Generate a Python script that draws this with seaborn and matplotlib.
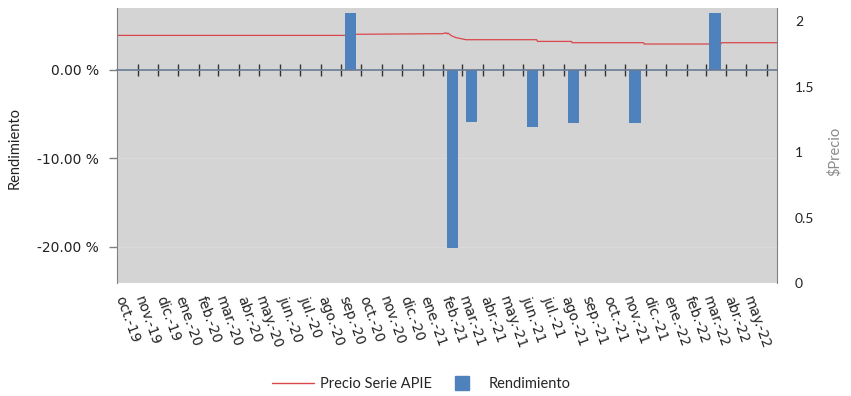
import pandas as pd
import numpy as np
import matplotlib
matplotlib.use('Agg')
import matplotlib.pyplot as plt
import matplotlib.dates as mdates
from matplotlib.lines import Line2D
import seaborn as sns

# Datos
meses = ['oct.-19', 'nov.-19', 'dic.-19', 'ene.-20', 'feb.-20', 'mar.-20', 'abr.-20',
         'may.-20', 'jun.-20', 'jul.-20', 'ago.-20', 'sep.-20', 'oct.-20', 'nov.-20',
         'dic.-20', 'ene.-21', 'feb.-21', 'mar.-21', 'abr.-21', 'may.-21', 'jun.-21',
         'jul.-21', 'ago.-21', 'sep.-21', 'oct.-21', 'nov.-21', 'dic.-21', 'ene.-22',
         'feb.-22', 'mar.-22', 'abr.-22', 'may.-22']

precio_fechas = ['2019-10-01', '2020-09-08', '2020-09-09', '2021-01-31', '2021-02-05',
                 '2021-02-07', '2021-02-08', '2021-02-14', '2021-02-20', '2021-03-07',
                 '2021-06-21', '2021-06-22', '2021-08-12', '2021-08-13', '2021-11-28',
                 '2021-11-29', '2022-03-24', '2022-03-25', '2022-06-16']
precio_valores = [1.893, 1.893, 1.901, 1.906, 1.913, 1.905, 1.910, 1.888, 1.876, 1.860,
                  1.860, 1.847, 1.847, 1.837, 1.837, 1.827, 1.827, 1.837, 1.837]

rend_fechas = ['2020-09-15', '2021-02-15', '2021-03-15', '2021-06-15', '2021-08-15',
               '2021-11-15', '2022-03-15']
rend_valores = [6.41, -20.1, -5.88, -6.44, -5.99, -5.99, 6.41]

df_precio = pd.DataFrame({'fecha': pd.to_datetime(precio_fechas), 'precio': precio_valores})
df_rend = pd.DataFrame({'fecha': pd.to_datetime(rend_fechas), 'rend': rend_valores})

sns.set_style('white')
plt.rcParams['font.family'] = ['DejaVu Sans']

fondo = '#d4d4d4'
rojo = '#d9474a'
azul = '#4f81bd'

fig = plt.figure(figsize=(8.51, 3.96), dpi=100)
ax = fig.add_axes([0.1375, 0.2854, 0.7755, 0.6936])
ax2 = ax.twinx()

# eje de precio debajo, rendimiento encima
ax2.set_zorder(1)
ax.set_zorder(2)
ax.patch.set_visible(False)
ax2.patch.set_visible(True)
ax2.set_facecolor(fondo)

sns.lineplot(data=df_precio, x='fecha', y='precio', ax=ax2, color=rojo, lw=0.9)

x_rend = mdates.date2num(df_rend['fecha'])
ax.bar(x_rend, df_rend['rend'], width=17, color=azul, edgecolor='none', linewidth=0,
       zorder=2)

inicio = mdates.date2num(pd.Timestamp('2019-10-01'))
fin = mdates.date2num(pd.Timestamp('2022-06-16'))
ax.set_xlim(inicio, fin)
ax.set_ylim(-24.1, 6.97)
ax2.set_ylim(0, 2.1)

# grilla tenue
for y in [-10, -20]:
    ax.axhline(y, color='#dadada', lw=0.8, zorder=0)

# eje x cruzando en cero con marcas de mes
bordes = pd.date_range('2019-11-01', '2022-06-01', freq='MS')
ax.spines['bottom'].set_position(('data', 0))
ax.spines['bottom'].set_color('#6a7b95')
ax.spines['bottom'].set_linewidth(1.2)
ax.set_xticks(mdates.date2num(bordes))
ax.tick_params(axis='x', bottom=True, direction='inout', length=9, width=1,
               color='#333333', labelbottom=False)

centros = pd.date_range('2019-10-01', '2022-05-01', freq='MS') + pd.Timedelta(days=15)
sec = ax.secondary_xaxis('bottom')
sec.spines['bottom'].set_visible(False)
sec.set_xticks(mdates.date2num(centros))
sec.set_xticklabels(meses, rotation=-70, ha='center', va='top', fontsize=10,
                    color='#222222')
sec.tick_params(length=0, pad=8)

# eje izquierdo
ax.set_yticks([0, -10, -20])
ax.set_yticklabels(['0.00 %', '-10.00 %', '-20.00 %'], fontsize=10, color='#222222')
ax.tick_params(axis='y', left=True, direction='out', length=6, width=1,
               color='#808080', pad=7)
ax.set_ylabel('Rendimiento', fontsize=10.5, family='Lato', color='#222222')
ax.yaxis.set_label_coords(-0.144, 0.49)

# eje derecho
ax2.set_yticks([0, 0.5, 1, 1.5, 2])
ax2.set_yticklabels(['0', '0.5', '1', '1.5', '2'], fontsize=10, family='Lato',
                    color='#222222')
ax2.tick_params(axis='y', length=0, pad=13)
ax2.set_ylabel('$Precio', fontsize=10.5, family='Lato', color='#8a8a8a')
ax2.yaxis.set_label_coords(1.076, 0.48)
ax2.set_xlabel('')
ax.set_xlabel('')

for a in (ax, ax2):
    a.spines['top'].set_visible(False)
ax2.spines['bottom'].set_visible(False)
ax.spines['left'].set_color('#808080')
ax2.spines['left'].set_visible(False)
ax.spines['right'].set_visible(False)
ax2.spines['right'].set_color('#808080')

handles = [Line2D([0], [0], color=rojo, lw=1.0),
           Line2D([0], [0], color=azul, marker='s', markersize=10, linestyle='none')]
fig.legend(handles, ['Precio Serie APIE', 'Rendimiento'], loc='center',
           bbox_to_anchor=(0.495, 0.03), ncol=2, frameon=False,
           prop={'family': 'Lato', 'size': 10.5}, handlelength=2.9,
           handletextpad=0.4, columnspacing=0.6)

plt.savefig('out.png', dpi=100)
plt.close()
